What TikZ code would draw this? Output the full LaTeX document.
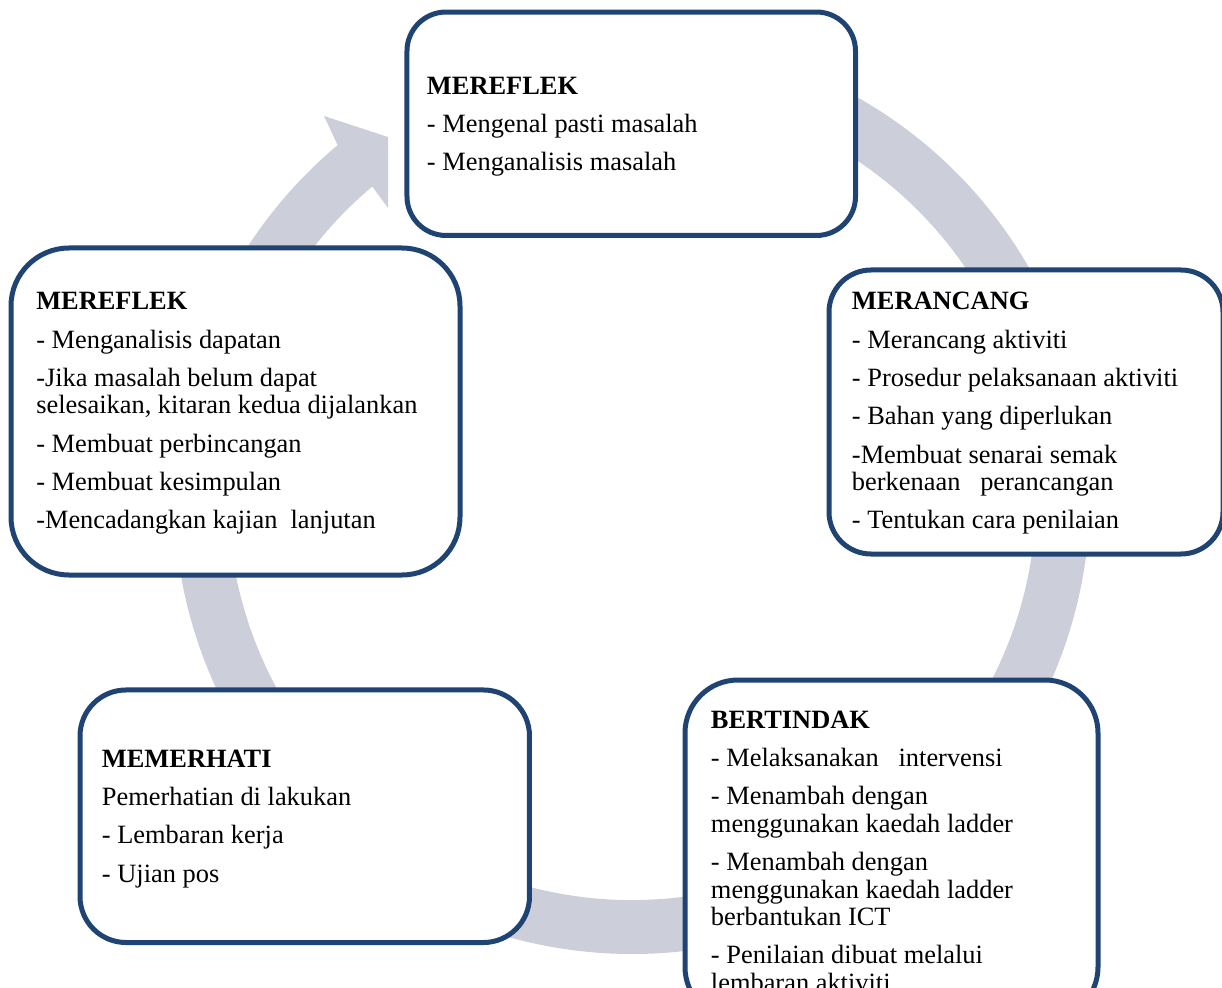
\documentclass[tikz,border=0pt]{standalone}
\usepackage{fontspec}
\setmainfont{Liberation Serif}
\definecolor{ringgray}{RGB}{204,207,217}
\definecolor{boxblue}{RGB}{31,68,116}
\tikzset{
  stagebox/.style={draw=boxblue, line width=3.75pt, fill=white, inner sep=0pt, outer sep=0pt},
  stagetext/.style={anchor=base west, inner sep=0pt, font=\fontsize{19.8}{20.6}\selectfont, text=black}
}
\newcommand{\PL}[1]{\baselineskip=28.7pt\hbox{#1}}
\newcommand{\WL}[1]{\baselineskip=20.6pt\hbox{#1}}
\begin{document}
\begin{tikzpicture}[x=0.75pt,y=-0.75pt]
\useasboundingbox (0,0) rectangle (1222,988);
\clip (0,0) rectangle (1222,988);
\coordinate (c) at (632,496);
% circular arrow ring
\fill[ringgray] ([shift={(230:458)}]c) arc[start angle=230,end angle=-65,radius=458]
  -- ++(115:54) arc[start angle=-65,end angle=230,radius=404]
  -- (388,208) -- (388,137) -- (324,116) -- cycle;
% boxes
\node[stagebox, rounded corners=29.3pt, minimum width=336.4pt, minimum height=167.6pt] (top) at (631.25,123.75) {};
\node[stagebox, rounded corners=43.5pt, minimum width=336.75pt, minimum height=245.25pt] (left) at (235.5,411.5) {};
\node[stagebox, rounded corners=31.5pt, minimum width=295.5pt, minimum height=213pt] (right) at (1026,412) {};
\node[stagebox, rounded corners=34.5pt, minimum width=337.1pt, minimum height=189.4pt] (botleft) at (304.75,816.25) {};
\node[stagebox, rounded corners=39.75pt, minimum width=309.75pt, minimum height=255pt] (botright) at (891.5,850) {};
% texts
\node[stagetext] (t1) at (426.7,94.3) {\vtop{\PL{\textbf{MEREFLEK}}\PL{- Mengenal pasti masalah}\PL{- Menganalisis masalah}}};
\node[stagetext] (t2) at (36,310) {\vtop{\PL{\textbf{MEREFLEK}}\PL{- Menganalisis dapatan}\PL{-Jika masalah belum dapat}\WL{selesaikan, kitaran kedua dijalankan}\PL{- Membuat perbincangan}\PL{- Membuat kesimpulan}\PL{-Mencadangkan kajian\ \ lanjutan}}};
\node[stagetext] (t3) at (851.7,310) {\vtop{\PL{\textbf{MERANCANG}}\PL{- Merancang aktiviti}\PL{- Prosedur pelaksanaan aktiviti}\PL{- Bahan yang diperlukan}\PL{-Membuat senarai semak}\WL{berkenaan\ \ \ perancangan}\PL{- Tentukan cara penilaian}}};
\node[stagetext] (t4) at (710.7,728.3) {\vtop{\PL{\textbf{BERTINDAK}}\PL{- Melaksanakan\ \ \ intervensi}\PL{- Menambah dengan}\WL{menggunakan kaedah ladder}\PL{- Menambah dengan}\WL{menggunakan kaedah ladder}\WL{berbantukan ICT}\PL{- Penilaian dibuat melalui}\WL{lembaran aktiviti}}};
\node[stagetext] (t5) at (101.7,767.3) {\vtop{\PL{\textbf{MEMERHATI}}\PL{Pemerhatian di lakukan}\PL{- Lembaran kerja}\PL{- Ujian pos}}};
\end{tikzpicture}
\end{document}
